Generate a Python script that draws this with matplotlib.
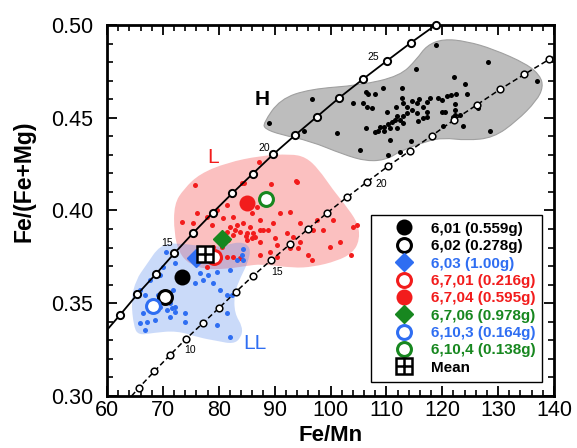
import numpy as np
import matplotlib
matplotlib.use("Agg")
import matplotlib.pyplot as plt
from matplotlib.path import Path
from matplotlib.patches import PathPatch
from matplotlib.ticker import MultipleLocator, FormatStrFormatter

plt.rcParams['font.family'] = ['Liberation Sans', 'DejaVu Sans']

# ---------------- data ----------------
# equilibrium curves (open-circle markers = 1 mol% steps)
solid_x = [62.33, 65.42, 68.77, 72.05, 75.45, 78.92, 82.43, 86.08, 89.76, 93.70,
           97.58, 101.58, 105.76, 110.06, 114.41, 118.83]
solid_y = [0.3437, 0.3548, 0.3658, 0.3769, 0.3880, 0.3988, 0.4093, 0.4198, 0.4303,
           0.4407, 0.4506, 0.4608, 0.4707, 0.4806, 0.4905, 0.5000]
solid_start = (60.0, 0.3356)

dashed_x = [65.73, 68.47, 71.28, 74.08, 77.13, 80.10, 83.09, 86.18, 89.40, 92.75,
            96.03, 99.43, 103.01, 106.59, 110.35, 114.23, 118.11, 122.10, 126.16,
            130.34, 134.69, 139.16]
dashed_y = [0.3045, 0.3133, 0.3221, 0.3306, 0.3392, 0.3476, 0.3562, 0.3649, 0.3733,
            0.3818, 0.3902, 0.3988, 0.4073, 0.4155, 0.4240, 0.4322, 0.4403, 0.4488,
            0.4569, 0.4653, 0.4734, 0.4815]
dashed_start = (64.4, 0.3000)
dashed_end = (140.0, 0.4830)

curve_labels = ["25", "20", "15", "10", "15", "20"]
curve_label_x = [107.7, 88.1, 70.7, 74.9, 90.4, 109.0]
curve_label_y = [0.4829, 0.4335, 0.3823, 0.3248, 0.3670, 0.4143]

# group fields (outline vertices)
H_outline_x = [87.97, 90.96, 96.33, 105.28, 112.44, 115.43, 117.22, 120.19, 124.38,
               129.14, 135.11, 137.49, 138.08, 136.90, 133.32, 129.14, 124.38, 120.19,
               117.22, 112.44, 110.06, 106.48, 102.29, 96.33, 90.96, 88.28]
H_outline_y = [0.4470, 0.4600, 0.4655, 0.4675, 0.4725, 0.4815, 0.4890, 0.4925, 0.4912,
               0.4870, 0.4790, 0.4728, 0.4667, 0.4592, 0.4482, 0.4392, 0.4378, 0.4392,
               0.4374, 0.4320, 0.4274, 0.4265, 0.4302, 0.4375, 0.4410, 0.4440]

L_outline_x = [72.0, 73.8, 76.6, 81.5, 87.4, 92.8, 95.6, 97.9, 100.4, 103.3, 105.0,
               105.2, 104.0, 101.2, 96.9, 93.3, 87.7, 84.7, 81.1, 77.5, 74.7, 72.9, 72.0]
L_outline_y = [0.4035, 0.4118, 0.4198, 0.4258, 0.4295, 0.4305, 0.4288, 0.4222, 0.4113,
               0.4005, 0.3924, 0.3840, 0.3772, 0.3728, 0.3696, 0.3690, 0.3712, 0.3700,
               0.3684, 0.3684, 0.3712, 0.3772, 0.3879]

LL_outline_x = [69.5, 72.7, 76.6, 80.2, 83.8, 85.8, 85.2, 83.9, 82.8, 82.8, 84.3, 84.0,
                82.6, 79.7, 76.6, 72.5, 68.2, 65.7, 64.8, 64.3, 65.2, 67.0]
LL_outline_y = [0.3815, 0.3825, 0.3808, 0.3802, 0.3835, 0.3802, 0.3717, 0.3640, 0.3555,
                0.3447, 0.3372, 0.3314, 0.3280, 0.3297, 0.3314, 0.3352, 0.3340, 0.3328,
                0.3370, 0.3518, 0.3628, 0.3705]

# individual analyses
H_x = [118.82, 128.25, 115.30, 122.16, 124.07, 96.63, 106.35, 106.77, 109.34, 112.73,
       107.96, 104.08, 105.87, 106.47, 107.37, 110.05, 111.72, 112.73, 113.63, 114.52,
       115.42, 115.90, 116.61, 117.21, 117.81, 119.30, 120.79, 121.50, 122.46, 124.49,
       122.28, 119.89, 120.49, 122.28, 123.17, 113.63, 115.42, 117.21, 116.49, 115.72,
       113.03, 111.54, 110.94, 110.35, 108.86, 108.56, 109.57, 110.65, 111.84, 112.91,
       106.35, 101.22, 95.31, 89.05, 105.28, 110.65, 114.35, 110.35, 112.44, 120.07,
       123.77, 126.45, 128.54, 136.90, 122.28, 111.84, 114.52, 117.21, 107.96, 112.44,
       109.57, 119.89, 113.03, 121.98]
H_y = [0.4892, 0.4802, 0.4761, 0.4722, 0.4680, 0.4600, 0.4641, 0.4628, 0.4659, 0.4659,
       0.4628, 0.4581, 0.4578, 0.4560, 0.4551, 0.4533, 0.4560, 0.4605, 0.4560, 0.4590,
       0.4578, 0.4599, 0.4560, 0.4533, 0.4608, 0.4608, 0.4617, 0.4623, 0.4628, 0.4628,
       0.4574, 0.4533, 0.4533, 0.4542, 0.4515, 0.4524, 0.4528, 0.4506, 0.4497, 0.4485,
       0.4510, 0.4488, 0.4479, 0.4465, 0.4452, 0.4429, 0.4429, 0.4443, 0.4443, 0.4470,
       0.4447, 0.4420, 0.4431, 0.4470, 0.4326, 0.4380, 0.4375, 0.4298, 0.4317, 0.4456,
       0.4458, 0.4551, 0.4429, 0.4700, 0.4515, 0.4510, 0.4542, 0.4587, 0.4425, 0.4488,
       0.4452, 0.4596, 0.4578, 0.4506]

L_x = [75.75, 84.10, 93.95, 73.37, 75.46, 76.17, 77.84, 78.74, 80.82, 82.61, 84.70,
       86.79, 85.90, 87.39, 88.88, 89.78, 90.97, 92.76, 94.55, 96.93, 98.72, 100.51,
       104.09, 104.69, 94.55, 90.37, 89.18, 87.39, 86.19, 85.00, 85.60, 84.40, 83.21,
       82.02, 81.42, 82.61, 83.81, 85.00, 87.39, 83.81, 82.61, 81.42, 80.23, 79.33,
       77.84, 90.37, 92.16, 93.35, 94.25, 96.63, 92.76, 90.07, 87.98, 82.91, 81.72,
       80.53, 79.03, 78.14, 87.39, 86.49, 79.63, 81.42, 89.18, 97.53, 101.70, 99.91,
       87.21, 84.58, 89.29, 93.83, 103.6, 96.0, 84.9, 86.0]
L_y = [0.4137, 0.4150, 0.4155, 0.3940, 0.3931, 0.3988, 0.3967, 0.3922, 0.3958, 0.3967,
       0.4021, 0.4021, 0.3985, 0.3949, 0.3895, 0.3931, 0.3985, 0.3994, 0.3931, 0.3895,
       0.3895, 0.3949, 0.3913, 0.3922, 0.3832, 0.3814, 0.3778, 0.3832, 0.3877, 0.3877,
       0.3913, 0.3931, 0.3922, 0.3913, 0.3886, 0.3868, 0.3886, 0.3841, 0.3760, 0.3742,
       0.3751, 0.3751, 0.3742, 0.3724, 0.3697, 0.3751, 0.3877, 0.3859, 0.3796, 0.3733,
       0.3796, 0.3850, 0.3895, 0.3895, 0.3841, 0.3805, 0.3805, 0.3778, 0.3895, 0.3859,
       0.4003, 0.4030, 0.4057, 0.3949, 0.3832, 0.3805, 0.4260, 0.4150, 0.4141, 0.4159,
       0.3760, 0.3760, 0.3860, 0.3850]

LL_x = [70.56, 84.40, 84.10, 70.08, 72.17, 69.49, 67.70, 65.91, 66.80, 69.19, 71.28,
        71.87, 75.75, 79.03, 80.23, 81.42, 82.31, 76.64, 79.63, 82.02, 83.21, 84.40,
        66.51, 65.91, 67.10, 68.59, 69.49, 70.68, 71.58, 72.17, 71.28, 73.96, 73.96,
        66.80, 79.63, 81.42, 82.02, 77.24, 78.14, 71.28, 72.17]
LL_y = [0.3778, 0.3791, 0.3760, 0.3697, 0.3715, 0.3652, 0.3625, 0.3571, 0.3544, 0.3544,
        0.3536, 0.3571, 0.3607, 0.3607, 0.3571, 0.3544, 0.3544, 0.3661, 0.3670, 0.3679,
        0.3733, 0.3733, 0.3446, 0.3392, 0.3401, 0.3410, 0.3482, 0.3464, 0.3473, 0.3482,
        0.3428, 0.3446, 0.3401, 0.3356, 0.3383, 0.3446, 0.3320, 0.3625, 0.3652, 0.3500,
        0.3455]

# sample means
sample_names = ["6,01 (0.559g)", "6,02 (0.278g)", "6,03 (1.00g)", "6,7,01 (0.216g)",
                "6,7,04 (0.595g)", "6,7,06 (0.978g)", "6,10,3 (0.164g)", "6,10,4 (0.138g)"]
sample_x = [73.37, 70.38, 75.9, 79.15, 85.00, 80.53, 68.18, 88.40]
sample_y = [0.3643, 0.3536, 0.3742, 0.3751, 0.4042, 0.3845, 0.3485, 0.4060]
mean_x, mean_y = 77.54, 0.3766

group_labels = ["H", "L", "LL"]
group_label_x = [87.7, 79.0, 86.5]
group_label_y = [0.4596, 0.4287, 0.3284]

# ---------------- styling ----------------
BLACK = "#000000"
RED = "#f21c1c"
BLUE = "#2f6ef2"
GREEN = "#17871f"

sample_styles = [
    dict(marker='o', mfc=BLACK, mec=BLACK, ms=10, mew=1.5, color=BLACK),
    dict(marker='o', mfc='white', mec=BLACK, ms=10, mew=2.2, color=BLACK),
    dict(marker='D', mfc=BLUE, mec=BLUE, ms=9.5, mew=1.0, color=BLUE),
    dict(marker='o', mfc='white', mec=RED, ms=10, mew=2.2, color=RED),
    dict(marker='o', mfc=RED, mec=RED, ms=10, mew=1.5, color=RED),
    dict(marker='D', mfc=GREEN, mec=GREEN, ms=9.5, mew=1.0, color=GREEN),
    dict(marker='o', mfc='white', mec=BLUE, ms=10, mew=2.2, color=BLUE),
    dict(marker='o', mfc='white', mec=GREEN, ms=10, mew=2.2, color=GREEN),
]


def smooth_closed(xs, ys):
    pts = np.column_stack([xs, ys])
    mids = (pts + np.roll(pts, -1, axis=0)) / 2.0
    verts = [mids[-1]]
    codes = [Path.MOVETO]
    for i in range(len(pts)):
        verts += [pts[i], mids[i]]
        codes += [Path.CURVE3, Path.CURVE3]
    return Path(verts, codes)


fig = plt.figure(figsize=(5.77, 4.48), dpi=100)
ax = fig.add_axes([107 / 577, 52 / 448, 447 / 577, 371 / 448])

# fields
ax.add_patch(PathPatch(smooth_closed(H_outline_x, H_outline_y), facecolor='#bdbdbd',
                       edgecolor='#a0a0a0', lw=0.8, zorder=1))
ax.add_patch(PathPatch(smooth_closed(L_outline_x, L_outline_y), facecolor=(0.96, 0.28, 0.28, 0.34),
                       edgecolor='none', zorder=1.2))
ax.add_patch(PathPatch(smooth_closed(LL_outline_x, LL_outline_y), facecolor=(0.32, 0.52, 0.93, 0.30),
                       edgecolor='none', zorder=1.3))

# individual analyses
ax.scatter(H_x, H_y, s=13, color=BLACK, lw=0, zorder=2)
ax.scatter(L_x, L_y, s=13, color=RED, lw=0, zorder=2)
ax.scatter(LL_x, LL_y, s=13, color=BLUE, lw=0, zorder=2)

# curves
ax.plot([solid_start[0]] + solid_x, [solid_start[1]] + solid_y, color='black', lw=1.3, zorder=3)
ax.plot(solid_x, solid_y, ls='none', marker='o', ms=5.2, mfc='white', mec='black', mew=1.4,
        zorder=3.5, clip_on=False)
ax.plot([dashed_start[0]] + dashed_x + [dashed_end[0]], [dashed_start[1]] + dashed_y + [dashed_end[1]],
        color='black', lw=1.1, ls=(0, (3.5, 2)), zorder=3)
ax.plot(dashed_x, dashed_y, ls='none', marker='o', ms=4.8, mfc='white', mec='black', mew=1.1,
        zorder=3.5)
for t, x, y in zip(curve_labels, curve_label_x, curve_label_y):
    ax.text(x, y, t, fontsize=7.5, ha='center', va='center', zorder=4)

# group labels
ax.text(group_label_x[0], group_label_y[0], group_labels[0], fontsize=15, fontweight='bold',
        color=BLACK, ha='center', va='center')
ax.text(group_label_x[1], group_label_y[1], group_labels[1], fontsize=15,
        color=RED, ha='center', va='center')
ax.text(group_label_x[2], group_label_y[2], group_labels[2], fontsize=15,
        color=BLUE, ha='center', va='center')

# sample means
handles = []
for name, x, y, st in zip(sample_names, sample_x, sample_y, sample_styles):
    h, = ax.plot([x], [y], ls='none', marker=st['marker'], mfc=st['mfc'], mec=st['mec'],
                 ms=st['ms'], mew=st['mew'], zorder=5)
    handles.append(h)
m1, = ax.plot([mean_x], [mean_y], ls='none', marker='s', ms=11, mfc='white', mec='black',
              mew=1.8, zorder=6)
m2, = ax.plot([mean_x], [mean_y], ls='none', marker='+', ms=11, mec='black', mew=1.8, zorder=6.1)
handles.append((m1, m2))
labels = sample_names + ["Mean"]
label_colors = [st['color'] for st in sample_styles] + [BLACK]

leg = ax.legend(handles, labels, loc='upper left', bbox_to_anchor=(0.5906, 0.488),
                frameon=True, fancybox=False, edgecolor='black', framealpha=1,
                prop={'size': 11, 'weight': 'bold'}, handlelength=3.4, handletextpad=0.05,
                labelspacing=0.22, borderpad=0.45, borderaxespad=0)
leg.get_frame().set_linewidth(1.0)
for txt, c in zip(leg.get_texts(), label_colors):
    txt.set_color(c)
leg.set_zorder(10)

# axes
ax.set_xlim(60, 140)
ax.set_ylim(0.30, 0.50)
ax.xaxis.set_major_locator(MultipleLocator(10))
ax.xaxis.set_minor_locator(MultipleLocator(2))
ax.yaxis.set_major_locator(MultipleLocator(0.05))
ax.yaxis.set_minor_locator(MultipleLocator(0.01))
ax.yaxis.set_major_formatter(FormatStrFormatter('%.2f'))
ax.tick_params(which='both', direction='in', top=True, right=True, labelsize=15.5)
ax.tick_params(which='major', length=7, width=1.3)
ax.tick_params(which='minor', length=4, width=1.2)
ax.tick_params(axis='x', which='major', pad=3)
ax.tick_params(axis='y', which='major', pad=10)
for s in ax.spines.values():
    s.set_linewidth(2.0)

ax.set_xlabel("Fe/Mn", fontsize=16, fontweight='bold')
ax.set_ylabel("Fe/(Fe+Mg)", fontsize=16.5, fontweight='bold')
ax.xaxis.set_label_coords(0.5, -0.078)
ax.yaxis.set_label_coords(-0.161, 0.58)

fig.savefig("out.png", dpi=100)
